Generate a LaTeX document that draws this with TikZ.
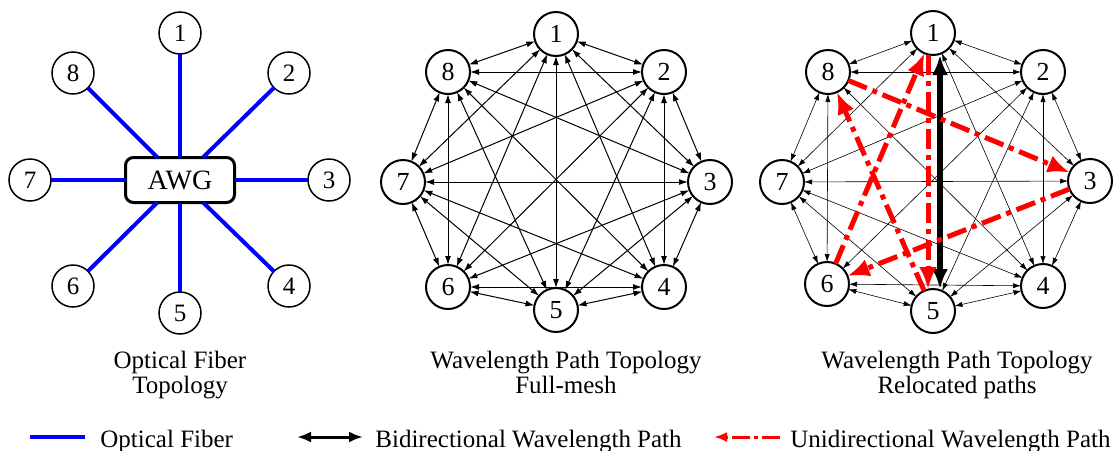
\documentclass[tikz,border=0pt]{standalone}
\usepackage{fontspec}
\setmainfont{Liberation Serif}
\usetikzlibrary{arrows.meta}
\tikzset{
    site/.style={
        draw,
        circle,
        line width=1pt,
        minimum size=22pt,
        inner sep=0pt,
        outer sep=0pt,
        font=\fontsize{13pt}{13pt}\selectfont,
    },
    fibsite/.style={site, line width=0.75pt, minimum size=21pt, font=\fontsize{12.5pt}{12.5pt}\selectfont},
    awgbox/.style={
        draw,
        rectangle,
        rounded corners=4pt,
        line width=1.5pt,
        minimum width=54.5pt,
        minimum height=22.5pt,
        outer sep=0pt,
        font=\fontsize{14pt}{14pt}\selectfont,
    },
    fiber/.style={blue, line width=2pt},
    mesh/.style={line width=0.5pt, {Latex[length=4.5pt,width=3pt]}-{Latex[length=4.5pt,width=3pt]}},
    thinmesh/.style={line width=0.3pt, {Latex[length=4pt,width=2.6pt]}-{Latex[length=4pt,width=2.6pt]}},
    bipath/.style={line width=3pt, {Latex[length=10pt,width=8pt]}-{Latex[length=10pt,width=8pt]}},
    unipath/.style={red, line width=2.5pt, dash pattern=on 10pt off 3pt on 2.5pt off 3pt, -{Latex[length=11pt,width=9pt]}},
    legbi/.style={line width=1.5pt, {Latex[length=7pt,width=5.5pt]}-{Latex[length=7pt,width=5.5pt]}},
    leguni/.style={red, line width=1.5pt, dash pattern=on 9pt off 2pt on 2pt off 2pt, -{Latex[length=6.5pt,width=5pt]}},
    caption/.style={align=center, anchor=base, inner sep=0pt, font=\fontsize{12.5pt}{12.5pt}\selectfont},
    legend/.style={anchor=base west, inner sep=0pt, font=\fontsize{12.5pt}{12.5pt}\selectfont},
}

\begin{document}
\begin{tikzpicture}[x=0.5pt, y=-0.5pt]
                   \useasboundingbox (0,0) rectangle (1119,450);
                   % optical fiber topology
                   \node[awgbox] (awg) at (180,180) {AWG};
                   \node[fibsite] (a1) at (180,33) {1};
                   \node[fibsite] (a2) at (289,73) {2};
                   \node[fibsite] (a3) at (329,180) {3};
                   \node[fibsite] (a4) at (289,286) {4};
                   \node[fibsite] (a5) at (180,313) {5};
                   \node[fibsite] (a6) at (73,286) {6};
                   \node[fibsite] (a7) at (30,180) {7};
                   \node[fibsite] (a8) at (73,73) {8};
                   \foreach \i in {1,...,8}
                       \draw[fiber] (a\i) -- (awg);
                   \node[caption] (capa) at (180,393) {Optical Fiber\\Topology};
                   % full-mesh
                   \node[site] (b1) at (556,34) {1};
                   \node[site] (b2) at (664,72) {2};
                   \node[site] (b3) at (710,182) {3};
                   \node[site] (b4) at (664,287) {4};
                   \node[site] (b5) at (556,310) {5};
                   \node[site] (b6) at (448,287) {6};
                   \node[site] (b7) at (403,182) {7};
                   \node[site] (b8) at (448,72) {8};
                   \foreach \i in {1,...,8}{
                       \foreach \j in {1,...,8}{
                           \ifnum\i<\j \draw[mesh] (b\i) -- (b\j); \fi
                       }
                   }
                   \node[caption] (capb) at (566,393) {Wavelength Path Topology\\Full-mesh};
                   % relocated paths
                   \node[site] (c1) at (933,33) {1};
                   \node[site] (c2) at (1043,72) {2};
                   \node[site] (c3) at (1090,181) {3};
                   \node[site] (c4) at (1043,286) {4};
                   \node[site] (c5) at (933,311) {5};
                   \node[site] (c6) at (827,284) {6};
                   \node[site] (c7) at (782,182) {7};
                   \node[site] (c8) at (828,72) {8};
                   \foreach \i/\j in {1/2,1/3,1/4,1/7,1/8,2/3,2/4,2/5,2/6,2/7,2/8,3/4,3/5,3/7,
                                      4/5,4/6,4/7,4/8,5/6,5/7,6/7,6/8,7/8}
                       \draw[thinmesh] (c\i) -- (c\j);
                   \draw[bipath] ([xshift=3.5pt]c1.south) -- ([xshift=3.5pt]c5.north);
                   \draw[unipath] ([xshift=-2.5pt]c1.south) -- ([xshift=-2.5pt]c5.north);
                   \draw[unipath] (c8) -- (c3);
                   \draw[unipath] (c3) -- (c6);
                   \draw[unipath] (c6) -- (c1);
                   \draw[unipath] (c5) -- (c8);
                   \node[caption] (capc) at (957,393) {Wavelength Path Topology\\Relocated paths};
                   % legend
                   \coordinate (fibA) at (30,437);
                   \coordinate (fibB) at (85,437);
                   \draw[fiber] (fibA) -- (fibB);
                   \node[legend] (legfib) at (100,447) {Optical Fiber};
                   \coordinate (biA) at (297,437);
                   \coordinate (biB) at (363,437);
                   \draw[legbi] (biA) -- (biB);
                   \node[legend] (legbi) at (375,447) {Bidirectional Wavelength Path};
                   \coordinate (uniA) at (780,437);
                   \coordinate (uniB) at (714,437);
                   \draw[leguni] (uniA) -- (uniB);
                   \node[legend] (leguni) at (790,447) {Unidirectional Wavelength Path};
\end{tikzpicture}
\end{document}
